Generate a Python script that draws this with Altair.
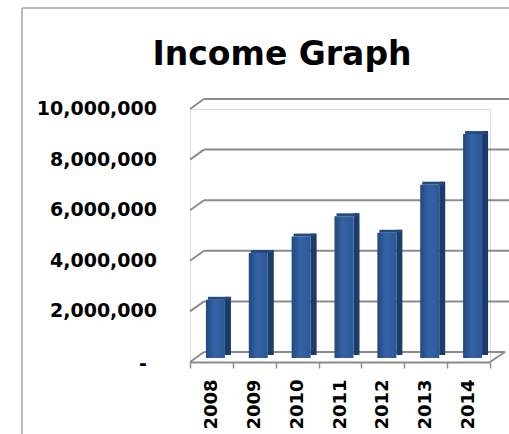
import altair as alt
import pandas as pd

years = ["2008", "2009", "2010", "2011", "2012", "2013", "2014"]
income = [2300000, 4150000, 4800000, 5600000, 4950000, 6850000, 8850000]
tick_values = [0, 2000000, 4000000, 6000000, 8000000, 10000000]
tick_labels = ["-", "2,000,000", "4,000,000", "6,000,000", "8,000,000", "10,000,000"]
title_text = ["Income Graph"]

bars_df = pd.DataFrame({"Year": years, "Income": income})
grid_df = pd.DataFrame({"v": tick_values, "label": tick_labels})
upper_df = grid_df[grid_df.v > 0]
zero_df = grid_df[grid_df.v == 0]
title_df = pd.DataFrame({"t": title_text})

W, H = 300, 253
DX, DY = 14, -10
GRID = "#8c8c8c"
FONT = "DejaVu Sans"

yscale = alt.Scale(domain=[0, 10000000], nice=False, zero=True)

xenc = alt.X(
    "Year:N", sort=years,
    scale=alt.Scale(paddingInner=0, paddingOuter=0),
    axis=alt.Axis(
        title=None, labelAngle=270, labelAlign="right", labelBaseline="middle",
        labelFont=FONT, labelFontWeight="bold", labelFontSize=18, labelColor="black",
        labelPadding=11, tickBand="extent", tickSize=6, tickColor=GRID, tickWidth=1.5,
        domainColor=GRID, domainWidth=2,
    ),
)

yaxis = alt.Axis(
    title=None, values=tick_values, grid=False, labels=False,
    tickSize=8, tickColor=GRID, tickWidth=1.5,
    domainColor=GRID, domainWidth=2,
)

# back wall gridlines (shifted for the 3-D look)
back_grid = alt.Chart(upper_df).mark_rule(color=GRID, strokeWidth=2, yOffset=DY).encode(
    x=alt.value(DX), x2=alt.value(W + 19),
    y=alt.Y("v:Q", scale=yscale, axis=None),
)
back_floor = alt.Chart(zero_df).mark_rule(color=GRID, strokeWidth=2, yOffset=DY).encode(
    x=alt.value(DX), x2=alt.value(W + 15),
    y=alt.Y("v:Q", scale=yscale, axis=None),
)
slants = alt.Chart(grid_df).mark_rule(color=GRID, strokeWidth=2, y2Offset=DY).encode(
    x=alt.value(0), x2=alt.value(DX),
    y=alt.Y("v:Q", scale=yscale, axis=None), y2="v:Q",
)
right_slant = alt.Chart(zero_df).mark_rule(color=GRID, strokeWidth=2, y2Offset=DY).encode(
    x=alt.value(W), x2=alt.value(W + 15),
    y=alt.Y("v:Q", scale=yscale, axis=None), y2="v:Q",
)

# y labels (front axis)
ylab = alt.Chart(upper_df).mark_text(
    font=FONT, fontSize=19, fontWeight="bold", color="black",
    align="right", baseline="middle",
).encode(x=alt.value(-33), y=alt.Y("v:Q", scale=yscale, axis=None), text="label:N")
ylab0 = alt.Chart(zero_df).mark_text(
    font=FONT, fontSize=19, fontWeight="bold", color="black",
    align="right", baseline="middle", dy=2,
).encode(x=alt.value(-43), y=alt.Y("v:Q", scale=yscale, axis=None), text="label:N")

front = alt.Chart(bars_df).mark_bar(
    width=19, xOffset=4, yOffset=-4, y2Offset=-2,
    color=alt.Gradient(
        gradient="linear", x1=0, x2=1, y1=0, y2=0,
        stops=[alt.GradientStop(color="#22487e", offset=0),
               alt.GradientStop(color="#3464a6", offset=0.45),
               alt.GradientStop(color="#2c5896", offset=1)],
    ),
).encode(
    x=xenc,
    y=alt.Y("Income:Q", scale=yscale, axis=yaxis),
)
side = alt.Chart(bars_df).mark_bar(
    width=6, xOffset=16.5, yOffset=-7, y2Offset=-4, color="#1b3b6a",
).encode(
    x=alt.X("Year:N", sort=years),
    y=alt.Y("Income:Q", scale=yscale, axis=None),
)
cap = alt.Chart(bars_df).mark_bar(
    width=22, xOffset=7.5, yOffset=-7, y2Offset=-4, color="#23497f",
).encode(
    x=alt.X("Year:N", sort=years),
    y=alt.Y("Income:Q", scale=yscale, axis=None),
    y2="Income:Q",
)

frame_left = alt.Chart(title_df).mark_rule(color="#a6a6a6", strokeWidth=1.5).encode(
    x=alt.value(-168), y=alt.value(-101), y2=alt.value(H + 72),
)
frame_top = alt.Chart(title_df).mark_rule(color="#a6a6a6", strokeWidth=1.5).encode(
    x=alt.value(-168), x2=alt.value(W + 19), y=alt.value(-101),
)
title = alt.Chart(title_df).mark_text(
    font=FONT, fontSize=33, fontWeight="bold", color="black",
    align="center", baseline="alphabetic",
).encode(text="t:N", x=alt.value(92), y=alt.value(-44))

chart = alt.layer(
    frame_left, frame_top, back_grid, back_floor, slants, right_slant,
    side, cap, front, ylab, ylab0, title,
).properties(
    width=W, height=H,
    autosize=alt.AutoSizeParams(type="none"),
    padding={"left": 190, "top": 109, "right": 19, "bottom": 72},
).configure_view(stroke=None).configure(background="white")

chart.save("out.html", embed_options={"renderer": "svg", "actions": False})
